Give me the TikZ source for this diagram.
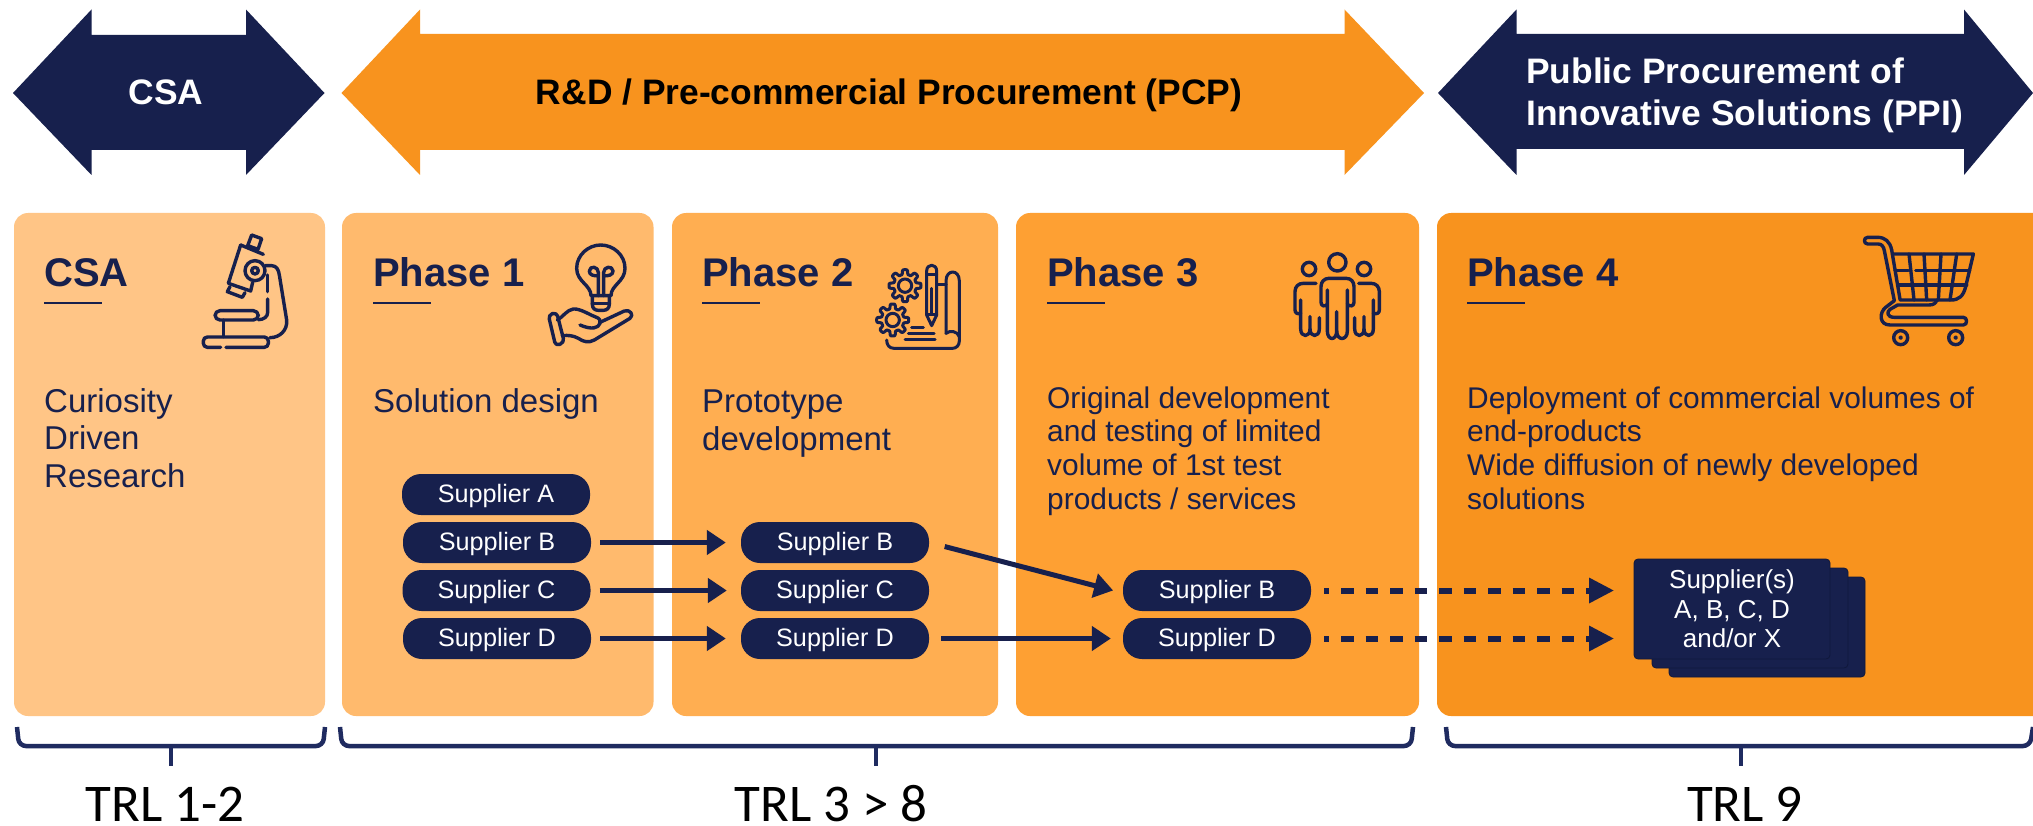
\documentclass[tikz,border=0pt]{standalone}
\usepackage{fontspec}
\setmainfont{Liberation Sans}
\newfontfamily\trlfont{Carlito}
\usetikzlibrary{arrows.meta,calc}
\definecolor{navy}{HTML}{17204D}
\definecolor{navyb}{HTML}{1F2B60}
\definecolor{navyd}{HTML}{10183C}
\definecolor{orangeA}{HTML}{F8931E}
\definecolor{cardCSA}{HTML}{FFC586}
\definecolor{cardA}{HTML}{FFBA6D}
\definecolor{cardB}{HTML}{FFAE51}
\definecolor{cardC}{HTML}{FEA033}
\definecolor{cardD}{HTML}{F8931E}
\tikzset{
  card/.style={rounded corners=14pt},
  ttl/.style={anchor=base west,inner sep=0pt,text=navy,font=\bfseries\fontsize{40}{44}\selectfont},
  ul/.style={draw=navy,line width=2.6pt},
  bodytxt/.style={anchor=base west,inner sep=0pt,text=navy,align=left,font=\fontsize{33}{37.5}\selectfont},
  smalltxt/.style={anchor=base west,inner sep=0pt,text=navy,align=left,font=\fontsize{29.9}{33.9}\selectfont},
  pill/.style={fill=navy,rounded corners=19pt,minimum height=41pt,minimum width=188pt,inner sep=0pt,text=white,text height=18pt,text depth=2pt,font=\fontsize{25.2}{28}\selectfont},
  conn/.style={draw=navy,line width=5pt,-{Triangle[length=19pt,width=24pt]}},
  dashconn/.style={draw=navy,line width=6pt,dash pattern=on 12.5pt off 12pt,dash phase=7.5pt,-{Triangle[length=25pt,width=24pt]}},
  brk/.style={draw=navyb,line width=4.5pt},
  stackbox/.style={fill=navy,draw=navyd,line width=0.8pt,rounded corners=4pt,minimum width=196pt,minimum height=100pt,inner sep=0pt},
  icn/.style={draw=navy,line width=3.4pt,line cap=round,line join=round},
  arrowlbl/.style={inner sep=0pt,font=\bfseries\fontsize{35.4}{42.5}\selectfont},
  trl/.style={anchor=base,inner sep=0pt,text=black,font=\trlfont\fontsize{53}{56}\selectfont}
}
\begin{document}
\begin{tikzpicture}[x=1pt,y=-1pt]
\clip (0,0) rectangle (2033,826);
\fill[white] (0,0) rectangle (2033,826);
% top arrows
\fill[navy] (13,93) -- (91.5,9.5) -- (91.5,35) -- (246,35) -- (246,9.5) -- (324.5,93) -- (246,175) -- (246,150) -- (91.5,150) -- (91.5,175) -- cycle;
\fill[orangeA] (341.5,93) -- (420,9.5) -- (420,34) -- (1344.5,34) -- (1344.5,9.5) -- (1424,93) -- (1344.5,175) -- (1344.5,150) -- (420,150) -- (420,175) -- cycle;
\fill[navy] (1438,93) -- (1516.5,9.5) -- (1516.5,34) -- (1964,34) -- (1964,9.5) -- (2033,93) -- (1964,175) -- (1964,149) -- (1516.5,149) -- (1516.5,175) -- cycle;
\node[arrowlbl,text=white,anchor=base] (lblcsa) at (166,105) {CSA};
\node[arrowlbl,text=black,anchor=base] (lblpcp) at (889,105) {R\&D / Pre-commercial Procurement (PCP)};
\node[arrowlbl,text=white,align=left,anchor=base west] (lblppi) at (1526,126) {Public Procurement of\\Innovative Solutions (PPI)};
% cards
\fill[cardCSA,card] (14,213) rectangle (325,716);
\fill[cardA,card] (342,213) rectangle (653.5,716);
\fill[cardB,card] (672,213) rectangle (998,716);
\fill[cardC,card] (1016,213) rectangle (1419,716);
\fill[cardD,card] (1437,213) rectangle (2070,716);
% titles
\node[ttl] (tcsa) at (44,287) {CSA};
\node[ttl] (tp1) at (373,287) {Phase 1};
\node[ttl] (tp2) at (702,287) {Phase 2};
\node[ttl] (tp3) at (1047,287) {Phase 3};
\node[ttl] (tp4) at (1467,287) {Phase 4};
\draw[ul] (44,303) -- (102,303);
\draw[ul] (373,303) -- (431,303);
\draw[ul] (702,303) -- (760,303);
\draw[ul] (1047,303) -- (1105,303);
\draw[ul] (1467,303) -- (1525,303);
% body
\node[bodytxt] (bcsa) at (44,487) {Curiosity\\Driven\\Research};
\node[bodytxt] (bp1) at (373,412) {Solution design};
\node[bodytxt] (bp2) at (702,450) {Prototype\\development};
\node[smalltxt] (bp3) at (1047,509.7) {Original development\\and testing of limited\\volume of 1st test\\products / services};
\node[smalltxt] (bp4) at (1467,509.7) {Deployment of commercial volumes of\\end-products\\Wide diffusion of newly developed\\solutions};
% suppliers
\node[pill] (a1) at (496,494.5) {Supplier A};
\node[pill] (b1) at (497,542.5) {Supplier B};
\node[pill] (c1) at (496.5,590.5) {Supplier C};
\node[pill] (d1) at (497,638.5) {Supplier D};
\node[pill] (b2) at (835,542.5) {Supplier B};
\node[pill] (c2) at (835,590.5) {Supplier C};
\node[pill] (d2) at (835,638.5) {Supplier D};
\node[pill] (b3) at (1217,590.5) {Supplier B};
\node[pill] (d3) at (1217,638.5) {Supplier D};
% stack
\node[stackbox] (s3) at (1767,627) {};
\node[stackbox] (s2) at (1750,618) {};
\node[stackbox,align=center,text=white,font=\fontsize{26}{29.5}\selectfont] (s1) at (1732,609) {Supplier(s)\\A, B, C, D\\and/or X};
% connectors
\draw[conn,shorten <=9pt,shorten >=15pt] (b1) -- (b2);
\draw[conn,shorten <=9pt,shorten >=14pt] (c1) -- (c2);
\draw[conn,shorten <=9pt,shorten >=15pt] (d1) -- (d2);
\draw[conn,shorten <=16pt,shorten >=10pt] (b2.east) -- ([yshift=-2.5pt]b3.west);
\draw[conn,shorten <=12pt,shorten >=12pt] (d2) -- (d3);
\draw[dashconn,shorten <=13pt,shorten >=19.5pt] (b3) -- (s1.west |- b3);
\draw[dashconn,shorten <=13pt,shorten >=19.5pt] (d3) -- (s1.west |- d3);
% brackets
\draw[brk,rounded corners=7pt] (17,727) -- (19,746) -- (323,746) -- (325,727);
\draw[brk] (171,746) -- (171,766);
\draw[brk,rounded corners=7pt] (340,727) -- (342,746) -- (1411,746) -- (1413,727);
\draw[brk] (876,746) -- (876,766);
\draw[brk,rounded corners=7pt] (1446,727) -- (1448,746) -- (2030,746) -- (2033,727);
\draw[brk] (1741,746) -- (1741,766);
\node[trl] (trla) at (165,821) {TRL 1-2};
\node[trl] (trlb) at (831,821) {TRL 3 > 8};
\node[trl] (trlc) at (1745,821) {TRL 9};
% microscope
\begin{scope}[shift={(190,225)},scale=1/3]
\draw[icn] (185,30) -- (215,41) -- (204,73) -- (173,62) -- cycle;
\draw[icn] (152,60) -- (220,88);
\draw[icn] (152,60) -- (115,175) -- (182,198) -- (188,172);
\draw[icn] (120,185) -- (112,200) -- (157,217) -- (165,203);
\draw[icn] (195,137) circle (30);
\draw[icn] (195,137) circle (10);
\draw[icn] (226,122) -- (245,122) .. controls (260,122) and (266,135) .. (268,150) -- (290,285) .. controls (293,315) and (270,338) .. (240,338);
\draw[icn] (233,150) -- (233,200);
\draw[icn] (233,222) -- (233,262) .. controls (233,275) and (222,284) .. (205,284);
\draw[icn,rounded corners=5pt] (205,257) -- (75,257) -- (75,285) -- (205,285) -- cycle;
\draw[icn] (100,285) -- (100,335);
\draw[icn,rounded corners=4pt] (92,367) -- (40,367) -- (40,336) -- (235,336) -- (235,367) -- (108,367);
\end{scope}
% bulb and hand
\begin{scope}[shift={(535,235)},scale=1/3]
\draw[icn] (168,182) .. controls (168,150) and (125,140) .. (125,100) .. controls (125,60) and (160,30) .. (197,30) .. controls (235,30) and (270,60) .. (270,100) .. controls (270,140) and (228,150) .. (228,182) -- cycle;
\draw[icn] (172,182) -- (172,208) .. controls (172,220) and (180,226) .. (190,226) -- (205,226) .. controls (215,226) and (223,220) .. (223,208) -- (223,182);
\draw[icn] (172,205) -- (223,205);
\draw[icn] (190,182) -- (190,112) .. controls (190,95) and (165,90) .. (163,108) .. controls (162,120) and (178,124) .. (190,122);
\draw[icn] (206,182) -- (206,112) .. controls (206,95) and (232,90) .. (234,108) .. controls (235,120) and (218,124) .. (206,122);
\draw[icn,rounded corners=4pt] (40,240) -- (65,232) -- (88,322) -- (62,333) -- cycle;
\draw[icn] (67,255) .. controls (85,245) and (95,225) .. (115,222) .. controls (135,220) and (165,240) .. (180,245) .. controls (195,250) and (198,258) .. (195,265) .. controls (190,280) and (170,285) .. (135,270);
\draw[icn] (195,262) -- (268,228) .. controls (285,222) and (298,240) .. (285,250) -- (178,315) .. controls (160,325) and (145,320) .. (130,310) .. controls (115,302) and (100,300) .. (82,302);
\end{scope}
% gears, pencil, paper
\begin{scope}[shift={(870,255)},scale=1/3]
\begin{scope}[shift={(105,92)}]
\draw[icn,line width=3pt] plot[domain=0:360,samples=145] (\x:{41+7*tanh(3*cos(8*\x))}) -- cycle;
\draw[icn,line width=3pt] (0,0) circle (20);
\end{scope}
\begin{scope}[shift={(68,195)}]
\draw[icn,line width=3pt] plot[domain=0:360,samples=145] (\x:{41+7*tanh(3*cos(8*\x))}) -- cycle;
\draw[icn,line width=3pt] (0,0) circle (20);
\end{scope}
\draw[icn,line width=3pt] (170,180) -- (170,48) .. controls (170,25) and (200,25) .. (200,48) -- (200,180) -- (185,212) -- cycle;
\draw[icn,line width=3pt] (170,58) -- (200,58);
\draw[icn,line width=3pt] (170,180) -- (200,180);
\draw[icn,line width=3pt] (185,100) -- (185,178);
\draw[icn,line width=3pt] (200,88) -- (228,88);
\draw[icn,line width=3pt] (228,235) -- (228,78) .. controls (228,42) and (268,42) .. (268,78) -- (268,258) .. controls (268,272) and (258,280) .. (248,280) -- (72,280) .. controls (58,280) and (50,270) .. (50,255);
\draw[icn,line width=3pt] (228,235) .. controls (240,225) and (262,228) .. (268,245);
\draw[icn,line width=3pt] (125,217) -- (160,217);
\draw[icn,line width=3pt] (115,236) -- (192,236);
\draw[icn,line width=3pt] (105,255) -- (195,255);
\end{scope}
% people
\begin{scope}[shift={(1285,245)},scale=1/3]
\draw[icn] (157,52) circle (26);
\draw[icn] (72,72) circle (20);
\draw[icn] (237,72) circle (20);
\draw[icn] (127,135) -- (127,258) .. controls (127,288) and (155,288) .. (155,258) -- (155,200);
\draw[icn] (155,258) .. controls (155,288) and (187,288) .. (187,258) -- (187,135);
\draw[icn] (127,178) .. controls (120,186) and (108,184) .. (108,172) -- (108,125) .. controls (108,110) and (118,100) .. (132,100) -- (183,100) .. controls (198,100) and (207,110) .. (207,125) -- (207,172) .. controls (207,184) and (195,186) .. (187,178);
\draw[icn] (93,115) -- (55,115) .. controls (40,115) and (30,125) .. (30,140) -- (30,195) .. controls (30,205) and (38,208) .. (47,205);
\draw[icn] (47,165) -- (47,252) .. controls (47,278) and (75,278) .. (75,252) -- (75,215);
\draw[icn] (75,252) .. controls (75,278) and (103,278) .. (103,252) -- (103,218);
\draw[icn] (221,115) -- (258,115) .. controls (273,115) and (283,125) .. (283,140) -- (283,195) .. controls (283,205) and (275,208) .. (265,205);
\draw[icn] (265,165) -- (265,252) .. controls (265,278) and (237,278) .. (237,252) -- (237,215);
\draw[icn] (237,252) .. controls (237,278) and (209,278) .. (209,252) -- (209,218);
\end{scope}
% cart
\begin{scope}[shift={(1855,230)},scale=1/3]
\draw[icn] (110,60) .. controls (105,35) and (90,22) .. (68,22) -- (38,22) .. controls (25,22) and (25,42) .. (38,42) -- (70,42) .. controls (80,42) and (86,50) .. (88,62) -- (118,212) -- (92,232) .. controls (72,248) and (72,285) .. (105,285) -- (325,285) .. controls (338,285) and (338,262) .. (325,262) -- (118,262) .. controls (95,262) and (95,245) .. (105,238) -- (128,225) -- (222,225) .. controls (235,225) and (243,220) .. (245,210);
\draw[icn] (110,60) -- (135,208);
\draw[icn] (112,72) -- (355,72) -- (332,170) .. controls (325,198) and (312,210) .. (288,210) -- (135,210);
\draw[icn] (182,122) -- (344,122);
\draw[icn] (120,122) -- (160,122);
\draw[icn] (128,165) -- (335,165);
\draw[icn] (162,72) -- (177,210);
\draw[icn] (207,72) -- (215,210);
\draw[icn] (258,72) -- (250,210);
\draw[icn] (305,72) -- (285,210);
\draw[icn] (137,323) circle (21);
\draw[icn,line width=2pt] (137,323) circle (4);
\draw[icn] (302,323) circle (21);
\draw[icn,line width=2pt] (302,323) circle (4);
\end{scope}
\end{tikzpicture}
\end{document}
